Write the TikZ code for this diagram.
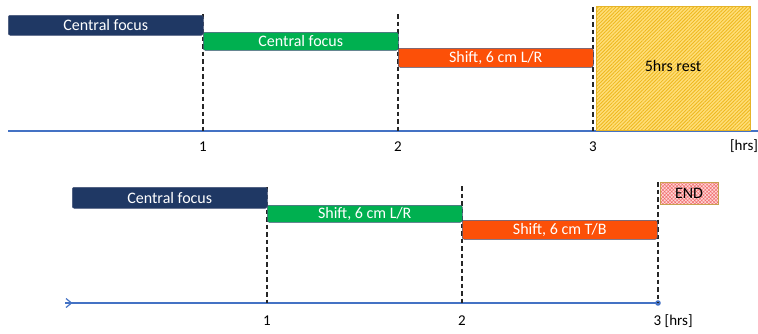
\documentclass[tikz,border=0pt]{standalone}
\usepackage{fontspec}
\setmainfont{Carlito}
\usetikzlibrary{patterns.meta,arrows.meta}

\definecolor{navybar}{RGB}{31,56,100}
\definecolor{greenbar}{RGB}{0,176,80}
\definecolor{orangebar}{RGB}{252,80,8}
\definecolor{barline}{RGB}{68,84,120}
\definecolor{axisblue}{RGB}{68,114,196}
\definecolor{restfill}{RGB}{255,222,120}
\definecolor{resthatch}{RGB}{238,184,30}
\definecolor{restline}{RGB}{230,180,40}
\definecolor{endfill}{RGB}{255,215,215}
\definecolor{endhatch}{RGB}{240,110,110}
\definecolor{endline}{RGB}{200,160,80}

\tikzset{
  bar/.style={rounded corners=2pt, draw=barline, line width=0.5pt, text=white,
    font=\fontsize{16}{18}\selectfont, inner sep=0pt, anchor=north west,
    minimum width=195pt},
  tick/.style={dashed, dash pattern=on 4.5pt off 3pt, line width=1.2pt, black!85},
  axis/.style={axisblue, line width=1.3pt},
  lbl/.style={font=\fontsize{15}{17}\selectfont, inner sep=0pt}
}

\begin{document}
\begin{tikzpicture}[x=1pt,y=-1pt]
\useasboundingbox (0,0) rectangle (758,333);

% ---------- upper schedule ----------
\coordinate (ta0) at (8,131);
\coordinate (ta1) at (203,131);
\coordinate (ta2) at (398,131);
\coordinate (ta3) at (593,131);
\coordinate (taE) at (758,131);
\coordinate (td1) at (203,14);
\coordinate (td2) at (398,14);
\coordinate (td3) at (593,7);

\draw[axis] (ta0) -- (taE);
\draw[tick] (td1) -- (ta1);
\draw[tick] (td2) -- (ta2);
\draw[tick] (td3) -- (ta3);

\node[bar, fill=navybar, minimum height=20pt] (t1) at (8,15) {Central focus};
\node[bar, fill=greenbar, minimum height=18pt] (t2) at (203,32) {Central focus};
\node[bar, fill=orangebar, minimum height=19pt] (t3) at (398,48) {Shift, 6 cm L/R};

% rest block
\fill[restfill] (596,6) rectangle (750,130);
\fill[pattern={Lines[angle=45,distance=2.5pt,line width=0.8pt]}, pattern color=resthatch]
  (596,6) rectangle (750,130);
\draw[restline, line width=0.6pt] (596,6) rectangle (750,130);
\node[lbl, font=\fontsize{16}{18}\selectfont] (rest) at (673,66) {5hrs rest};

\node[lbl] (l1) at (203,147) {1};
\node[lbl] (l2) at (398,147) {2};
\node[lbl] (l3) at (593,147) {3};
\node[lbl] (lh) at (744,146) {[hrs]};

% ---------- lower schedule ----------
\coordinate (ba0) at (65,303);
\coordinate (ba1) at (267,303);
\coordinate (ba2) at (462,303);
\coordinate (ba3) at (658,303);
\coordinate (bd1) at (267,187);
\coordinate (bd2) at (462,186);
\coordinate (bd3) at (658,182);

\draw[axis] (ba0) -- (ba3);
\draw[axisblue, line width=1.2pt] (66,298.5) -- (71.5,303) -- (66,307.5);
\fill[axisblue] (ba3) circle (2.8pt);
\draw[tick] (bd1) -- (ba1);
\draw[tick] (bd2) -- (ba2);
\draw[tick] (bd3) -- (ba3);

\node[bar, fill=navybar, minimum height=21pt] (b1) at (72,187) {Central focus};
\node[bar, fill=greenbar, minimum height=17pt] (b2) at (267,205) {Shift, 6 cm L/R};
\node[bar, fill=orangebar, minimum height=19pt] (b3) at (462,220) {Shift, 6 cm T/B};

% end marker
\fill[endfill] (660,182) rectangle (718,204);
\fill[pattern={Hatch[angle=45,distance=2.5pt,line width=0.5pt]}, pattern color=endhatch]
  (660,182) rectangle (718,204);
\draw[endline, line width=0.7pt] (660,182) rectangle (718,204);
\node[lbl, font=\fontsize{16}{18}\selectfont] (endtxt) at (689,193.5) {END};

\node[lbl] (m1) at (267,321) {1};
\node[lbl] (m2) at (462,321) {2};
\node[lbl, anchor=west] (m3) at (653.5,321) {3 [hrs]};
\end{tikzpicture}
\end{document}
